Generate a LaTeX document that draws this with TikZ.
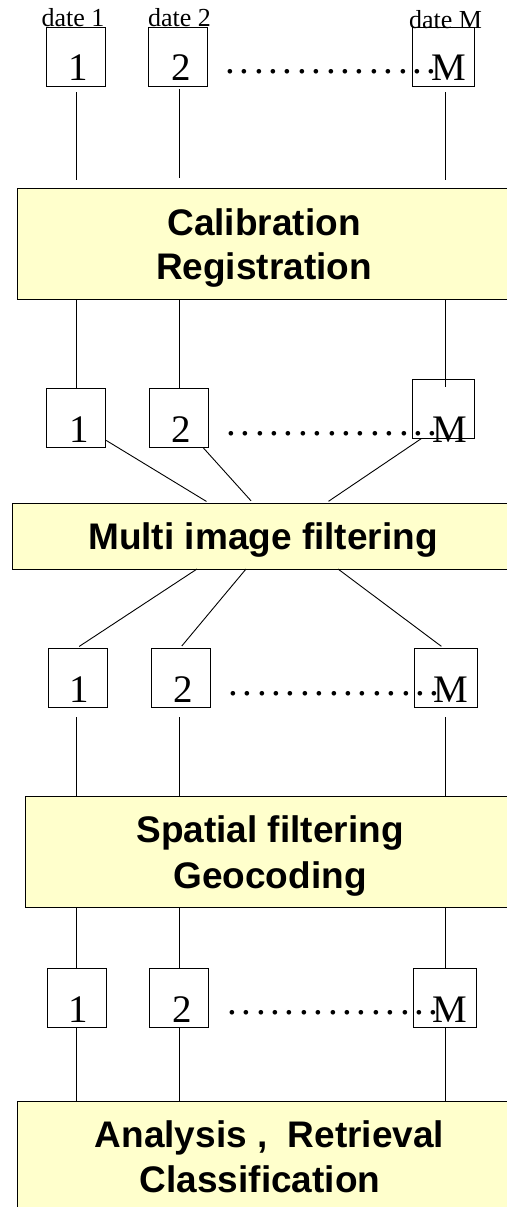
\documentclass[tikz,border=0pt]{standalone}
\usepackage{fontspec}
\setmainfont{Liberation Serif}
\newfontfamily\boxfont{Liberation Sans}
\definecolor{procfill}{HTML}{FFFFCC}
\newcommand\mydots{.\kern4.65pt.\kern4.65pt.\kern4.65pt.\kern4.65pt.\kern4.65pt.\kern4.65pt.\kern4.65pt.\kern4.65pt.\kern4.65pt.\kern4.65pt.\kern4.65pt.\kern4.65pt.\kern4.65pt.\kern4.65pt.}
\begin{document}
\begin{tikzpicture}[x=1pt,y=1pt,
  imgbox/.style={draw, line width=0.9pt, inner sep=0pt, minimum width=59pt, minimum height=59pt},
  proc/.style={draw, line width=1pt, fill=procfill, inner sep=0pt},
  num/.style={font=\fontsize{39pt}{39pt}\selectfont, inner sep=0pt, anchor=base},
  datelbl/.style={font=\fontsize{26pt}{26pt}\selectfont, inner sep=0pt, anchor=base},
  lbl/.style={font=\boxfont\bfseries\fontsize{37pt}{45pt}\selectfont, inner sep=0pt, align=center, anchor=base},
  dotrow/.style={font=\fontsize{39pt}{39pt}\selectfont, inner sep=0pt, anchor=base west},
  link/.style={line width=0.9pt}]
\useasboundingbox[fill=white] (0,0) rectangle (506,-1207);

% column positions
\coordinate (c1) at (76,0);
\coordinate (c2) at (179,0);
\coordinate (cM) at (445,0);

% process boxes
\node[proc, minimum width=494pt, minimum height=111pt] (cal)  at (264,-243.5) {};
\node[proc, minimum width=502pt, minimum height=66pt]  (filt) at (263,-536) {};
\node[proc, minimum width=490pt, minimum height=111pt] (spat) at (270,-851.5) {};
\node[proc, minimum width=496pt, minimum height=111pt] (ana)  at (265,-1156.5) {};

% (base anchor of a two-line label = baseline of its last line)
\node[lbl, font=\boxfont\bfseries\fontsize{37pt}{44pt}\selectfont] (calT) at (264,-279) {Calibration\\Registration};
\node[lbl] (filtT) at (263,-549) {Multi image filtering};
\node[lbl, font=\boxfont\bfseries\fontsize{37pt}{46pt}\selectfont] (spatT) at (270,-888) {Spatial filtering\\Geocoding};
\node[lbl] (anaT)  at (260,-1192) {\hspace*{19pt}Analysis ,\ \ Retrieval\\Classification};

% row 1
\node[imgbox] (b11) at (75.5,-56.5) {};
\node[imgbox] (b12) at (177.5,-56.5) {};
\node[imgbox, minimum width=62pt] (b1M) at (443,-56.5) {};
\node[datelbl] (t11) at (73,-27) {date 1};
\node[datelbl] (t12) at (179.5,-27) {date 2};
\node[datelbl] (t1M) at (445.5,-29) {date M};
\node[num] (n11) at (78,-81) {1};
\node[num] (n12) at (181,-81) {2};
\node[dotrow] (d1) at (225.1,-73.2) {\mydots};
\node[num] (n1M) at (449,-81) {M};

% row 2
\node[imgbox] (b21) at (76.3,-417.5) {};
\node[imgbox] (b22) at (179,-417.5) {};
\node[imgbox, minimum width=62pt] (b2M) at (443,-408.5) {};
\node[num] (n21) at (79,-442) {1};
\node[num] (n22) at (181.5,-442) {2};
\node[dotrow] (d2) at (226.1,-435.2) {\mydots};
\node[num] (n2M) at (450,-442) {M};

% row 3
\node[imgbox] (b31) at (77.5,-677.5) {};
\node[imgbox] (b32) at (180.5,-677.5) {};
\node[imgbox, minimum width=63pt] (b3M) at (445.5,-677.5) {};
\node[num] (n31) at (79.5,-702) {1};
\node[num] (n32) at (183,-702) {2};
\node[dotrow] (d3) at (228.1,-695.2) {\mydots};
\node[num] (n3M) at (451,-702) {M};

% row 4
\node[imgbox] (b41) at (77,-997.5) {};
\node[imgbox] (b42) at (179,-997.5) {};
\node[imgbox, minimum width=63pt] (b4M) at (444.5,-997.5) {};
\node[num] (n41) at (78.5,-1022) {1};
\node[num] (n42) at (182,-1022) {2};
\node[dotrow] (d4) at (227.1,-1014.2) {\mydots};
\node[num] (n4M) at (450,-1022) {M};

% row 1 -> calibration
\draw[link, shorten <=6pt, shorten >=8pt] (b11.south -| c1) -- (cal.north -| c1);
\draw[link, shorten <=3pt, shorten >=10pt] (b12.south -| c2) -- (cal.north -| c2);
\draw[link, shorten <=6pt, shorten >=8pt] (b1M.south -| cM) -- (cal.north -| cM);

% calibration -> row 2
\draw[link] (cal.south -| c1) -- (b21.north -| c1);
\draw[link] (cal.south -| c2) -- (b22.north -| c2);
\draw[link, shorten >=-8pt] (cal.south -| cM) -- (b2M.north -| cM);

% row 2 -> multi image filtering
\coordinate (fa) at (209,-503);
\coordinate (fb) at (253,-503);
\coordinate (fc) at (326,-503);
\draw[link, shorten >=3pt] ([yshift=7pt]b21.south east) -- (fa);
\draw[link, shorten >=3pt] ([xshift=-6pt]b22.south east) -- (fb);
\draw[link, shorten >=3pt] ([xshift=10pt]b2M.south west) -- (fc);

% multi image filtering -> row 3
\coordinate (ga) at (197,-569);
\coordinate (gb) at (246,-569);
\coordinate (gc) at (338,-569);
\draw[link, shorten >=2pt] (ga) -- (b31.north);
\draw[link, shorten >=2pt] (gb) -- (b32.north);
\draw[link, shorten >=2pt] (gc) -- ([xshift=-2.5pt]b3M.north);

% row 3 -> spatial
\draw[link, shorten <=10pt] (b31.south -| c1) -- (spat.north -| c1);
\draw[link, shorten <=10pt] (b32.south -| c2) -- (spat.north -| c2);
\draw[link, shorten <=10pt] (b3M.south -| cM) -- (spat.north -| cM);

% spatial -> row 4
\draw[link] (spat.south -| c1) -- (b41.north -| c1);
\draw[link] (spat.south -| c2) -- (b42.north -| c2);
\draw[link] (spat.south -| cM) -- (b4M.north -| cM);

% row 4 -> analysis
\draw[link] (b41.south -| c1) -- (ana.north -| c1);
\draw[link] (b42.south -| c2) -- (ana.north -| c2);
\draw[link] (b4M.south -| cM) -- (ana.north -| cM);
\end{tikzpicture}
\end{document}
